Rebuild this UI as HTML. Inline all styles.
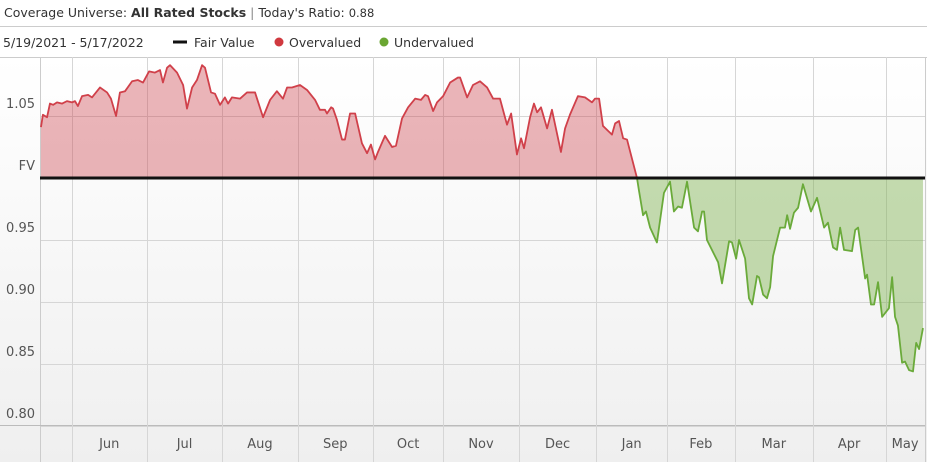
<!DOCTYPE html>
<html><head><meta charset="utf-8"><style>
html,body{margin:0;padding:0;background:#fff;}
body{width:927px;height:462px;overflow:hidden;font-family:"Liberation Sans",sans-serif;}
svg text{font-family:"DejaVu Sans","Liberation Sans",sans-serif;}
</style></head><body>
<svg id="chart" width="927" height="462" xmlns="http://www.w3.org/2000/svg">
<defs>
<linearGradient id="bg" x1="0" y1="0" x2="0" y2="1"><stop offset="0" stop-color="#ffffff"/><stop offset="1" stop-color="#efefef"/></linearGradient>
</defs>
<rect x="0" y="57" width="927" height="405" fill="url(#bg)"/>
<text x="4" y="17" font-size="12.5" fill="#333">Coverage Universe: <tspan font-weight="bold">All Rated Stocks</tspan> <tspan fill="#888">|</tspan> Today's Ratio: <tspan font-size="11.5">0.88</tspan></text>
<line x1="0" y1="26.5" x2="927" y2="26.5" stroke="#ccc"/>
<text x="3" y="47" font-size="12.5" fill="#333">5/19/2021 - 5/17/2022</text>
<g><line x1="173" y1="42" x2="187" y2="42" stroke="#111" stroke-width="3"/><text x="194" y="47" font-size="12.5" fill="#333">Fair Value</text></g>
<g><circle cx="279" cy="42" r="4.5" fill="#d0393f"/><text x="289" y="47" font-size="12.5" fill="#333">Overvalued</text></g>
<g><circle cx="384" cy="42" r="4.5" fill="#6aa632"/><text x="394" y="47" font-size="12.5" fill="#333">Undervalued</text></g>
<line x1="0" y1="57.5" x2="927" y2="57.5" stroke="#ccc"/>
<g id="grid"></g><g id="series"></g><g id="axes"></g>
</svg>
<script>
const days=[0.4,1.2,2.9,4.1,5.4,7,9.1,11.1,13.2,14.4,15.6,17.3,19.8,21.4,24.7,27.6,29.2,31.3,32.9,35,37.9,40.3,42.4,44.9,47.3,49.4,50.6,52.3,53.5,56.4,58.9,60.5,62.6,64.6,66.7,67.9,70.4,72,74.1,76.1,77.4,79,82.3,85.2,88.5,91.8,94.7,97.5,100,101.7,103.7,107,109.9,113.2,115.2,117.3,118.1,119.8,120.6,122.2,124.3,125.5,127.6,129.7,132.5,134.6,136.2,137.9,139.1,142,144.9,146.5,149,151.5,154.4,156.8,158.5,159.7,161.8,163.4,165.9,168.8,172,172.9,175.8,178.2,181.1,184,186.5,189.3,192.2,193.9,196.3,198,199.2,201.7,203.3,204.6,206.2,208.7,210.7,214.4,216.1,218.1,221.4,224.3,227.2,228.4,230.1,231.7,235.4,236.7,238.3,240,241.6,245.7,246.5,248.2,249.4,251.1,253.9,256.8,259.3,260.9,262.6,264.2,266.3,269.2,270.8,272.5,273.3,274.5,279.1,280.7,283.6,284.8,286.5,287.7,290.2,291.8,293.1,295.1,295.9,297.6,299.2,300.5,301.7,304.6,306.6,307.5,308.7,310.3,312,314,317.3,319.8,322.7,324.3,326.4,328,329.3,330.9,334.2,335.5,336.7,339.6,340.4,342,343.3,344.9,346.6,349.4,350.7,351.9,353.1,354.8,356,357.7,359.3,360.6,361.8,363.4];
const ratios=[1.041,1.051,1.049,1.060,1.059,1.061,1.060,1.062,1.061,1.062,1.058,1.066,1.067,1.065,1.073,1.069,1.064,1.050,1.069,1.070,1.078,1.079,1.077,1.086,1.085,1.087,1.077,1.089,1.091,1.085,1.075,1.056,1.073,1.079,1.091,1.089,1.069,1.068,1.059,1.065,1.060,1.065,1.064,1.069,1.069,1.049,1.063,1.070,1.064,1.073,1.073,1.075,1.071,1.063,1.055,1.055,1.052,1.057,1.056,1.047,1.031,1.031,1.052,1.052,1.028,1.020,1.027,1.015,1.021,1.034,1.025,1.026,1.048,1.057,1.064,1.063,1.067,1.066,1.054,1.061,1.066,1.077,1.081,1.081,1.065,1.075,1.078,1.073,1.064,1.064,1.043,1.052,1.019,1.032,1.024,1.049,1.060,1.053,1.057,1.040,1.055,1.021,1.040,1.051,1.066,1.065,1.061,1.064,1.064,1.042,1.035,1.044,1.046,1.032,1.031,1.000,0.990,0.970,0.973,0.960,0.948,0.988,0.997,0.973,0.977,0.976,0.997,0.960,0.957,0.973,0.973,0.950,0.932,0.915,0.949,0.948,0.935,0.950,0.935,0.903,0.898,0.921,0.920,0.906,0.903,0.912,0.937,0.960,0.960,0.970,0.959,0.972,0.976,0.995,0.973,0.984,0.960,0.964,0.944,0.942,0.960,0.942,0.941,0.958,0.960,0.919,0.922,0.898,0.898,0.916,0.888,0.895,0.920,0.888,0.881,0.851,0.852,0.845,0.844,0.867,0.862,0.879];
const yTickValues=[0.80,0.85,0.90,0.95,1.00,1.05];
const yTickLabels=["0.80","0.85","0.90","0.95","FV","1.05"];
const monthDays=[13,44,75,106,137,166,197,229,258,286,318,348];
const monthLabels=["Jun","Jul","Aug","Sep","Oct","Nov","Dec","Jan","Feb","Mar","Apr","May"];
const fairValue=1.0;

const NS="http://www.w3.org/2000/svg";
const X0=40,X1=922,D1=363,PT=57,PB=425,RIGHT=925;
const xs=d=>X0+d*(X1-X0)/D1;
const ys=v=>178-(v-1)*1240;
function mk(t,a,p){const e=document.createElementNS(NS,t);for(const k in a)e.setAttribute(k,a[k]);p.appendChild(e);return e;}
const grid=document.getElementById('grid'),ser=document.getElementById('series'),axes=document.getElementById('axes');

yTickValues.forEach((v,i)=>{
  if(v!==fairValue){const l=mk('line',{x1:X0,x2:RIGHT,y1:ys(v)+0.5,y2:ys(v)+0.5,stroke:'#d6d6d6'},grid);
  
  }
  const t=mk('text',{x:35,y:ys(v)-8,'text-anchor':'end','font-size':13,fill:'#555'},axes);
  t.textContent=yTickLabels[i];
  
  
});
const ax=mk('line',{x1:X0+0.5,x2:X0+0.5,y1:PT,y2:462,stroke:'#ccc'},grid);


const bl=mk('line',{x1:0,x2:RIGHT,y1:PB+0.5,y2:PB+0.5,stroke:'#bbb'},grid);


const rl=mk('line',{x1:RIGHT+0.5,x2:RIGHT+0.5,y1:PT,y2:462,stroke:'#ccc'},grid);


const bounds=[0].concat(monthDays).concat([D1+1.1]);
monthDays.forEach((d,i)=>{
  const x=Math.round(xs(d))+0.5;
  const l=mk('line',{x1:x,x2:x,y1:PT,y2:462,stroke:'#d6d6d6'},grid);
  
  
  const cx=(xs(d)+Math.min(xs(bounds[i+2]),RIGHT))/2;
  const t=mk('text',{x:cx,y:448,'text-anchor':'middle','font-size':13,fill:'#555'},axes);
  t.textContent=monthLabels[i];
  
  
});

let split=ratios.findIndex(v=>v<fairValue);
if(split<0)split=ratios.length;
const over=[],under=[];
for(let i=0;i<ratios.length;i++){(i<split?over:under).push([xs(days[i]),ys(ratios[i])]);}
if(split>0&&split<ratios.length)under.unshift(over[over.length-1]);
function area(pts,fill,stroke,name){
  if(pts.length<2)return;
  const fy=ys(fairValue);
  let d='M'+pts[0][0]+','+fy+pts.map(p=>' L'+p[0]+','+p[1]).join('')+' L'+pts[pts.length-1][0]+','+fy+'Z';
  const a=mk('path',{d:d,fill:fill},ser);
  
  
  const l=mk('path',{d:'M'+pts.map(p=>p[0]+','+p[1]).join(' L'),fill:'none',stroke:stroke,'stroke-width':1.8,'stroke-linejoin':'round'},ser);
  
  
}
area(over,'rgba(205,70,80,0.4)','#d0404a','overvalued');
area(under,'rgba(120,175,70,0.42)','#6aaa3a','undervalued');
const fv=mk('line',{x1:X0,x2:RIGHT,y1:ys(fairValue),y2:ys(fairValue),stroke:'#111','stroke-width':3},ser);


</script>
</body></html>
